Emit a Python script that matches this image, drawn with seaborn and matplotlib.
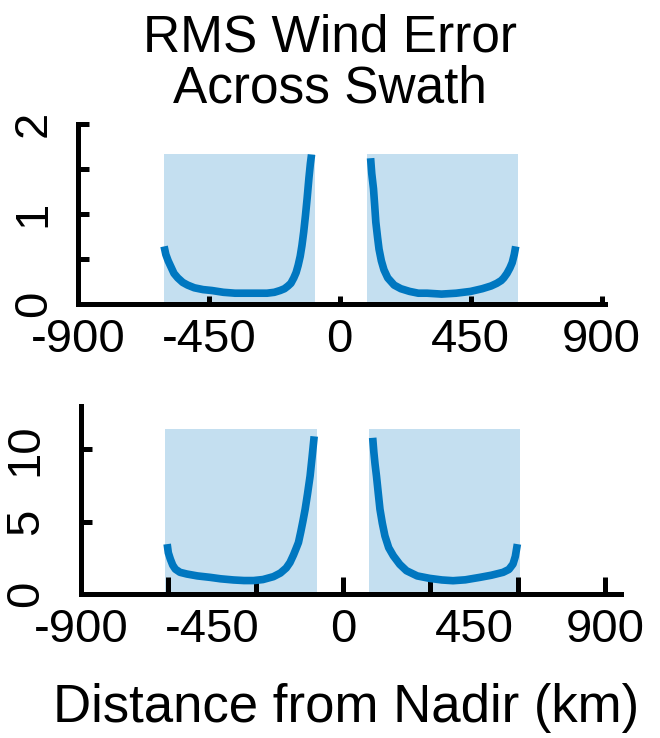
import matplotlib
matplotlib.use("Agg")
import matplotlib.pyplot as plt
import seaborn as sns
import pandas as pd
import numpy as np

sns.set_theme(style="white")
plt.rcParams['font.family'] = ['Liberation Sans', 'DejaVu Sans']
plt.rcParams['text.color'] = 'black'
plt.rcParams['xtick.color'] = 'black'
plt.rcParams['ytick.color'] = 'black'
plt.rcParams['axes.axisbelow'] = False

# ---- data ----
title_text = "RMS Wind Error\nAcross Swath"
xlabel_text = "Distance from Nadir (km)"
xtick_labels = ["-900", "-450", "0", "450", "900"]
xtick_vals = [-900, -450, 0, 450, 900]

top_left_x = [-604, -598, -590, -580, -570, -557, -540, -523, -500, -470, -440, -400,
              -360, -320, -280, -250, -225, -205, -190, -178, -168, -158, -150, -143,
              -136, -130, -124, -118, -112, -106, -101, -97]
top_left_y = [0.64, 0.55, 0.48, 0.41, 0.34, 0.29, 0.24, 0.21, 0.18, 0.16, 0.15, 0.13,
              0.12, 0.12, 0.12, 0.12, 0.13, 0.15, 0.17, 0.20, 0.23, 0.29, 0.35, 0.43,
              0.53, 0.65, 0.80, 0.98, 1.18, 1.40, 1.56, 1.66]
top_right_x = [106, 110, 116, 120, 124, 130, 135, 143, 152, 165, 187, 210, 240, 270,
               300, 350, 400, 450, 490, 520, 540, 555, 564, 575, 585, 593, 600, 605]
top_right_y = [1.62, 1.45, 1.28, 1.10, 0.91, 0.74, 0.61, 0.48, 0.38, 0.29, 0.21, 0.17,
               0.14, 0.12, 0.12, 0.11, 0.12, 0.14, 0.17, 0.20, 0.23, 0.26, 0.29, 0.34,
               0.40, 0.46, 0.55, 0.64]

bot_left_x = [-604, -600, -593, -585, -576, -560, -536, -500, -456, -420, -376, -340,
              -307, -275, -239, -215, -195, -182, -170, -160, -153, -145, -138, -130,
              -122, -113, -106, -99]
bot_left_y = [3.45, 2.85, 2.41, 2.00, 1.72, 1.50, 1.38, 1.25, 1.15, 1.05, 0.97, 0.93,
              0.93, 1.00, 1.20, 1.45, 1.80, 2.18, 2.70, 3.20, 3.56, 4.30, 5.00, 5.86,
              6.90, 8.16, 9.50, 10.9]
bot_right_x = [102, 106, 110, 115, 121, 127, 135, 144, 157, 173, 195, 218, 255, 298,
               340, 378, 420, 470, 510, 550, 570, 584, 592, 599]
bot_right_y = [10.8, 9.8, 9.0, 8.16, 7.0, 5.86, 4.9, 4.02, 3.2, 2.64, 2.05, 1.61, 1.25,
               1.08, 0.97, 0.92, 0.98, 1.15, 1.30, 1.50, 1.70, 2.07, 2.60, 3.45]

top_swaths = [(-605, -86), (93, 612)]
top_swath_height = 1.67
bot_swaths = [(-610, -91), (89, 609)]
bot_swath_height = 11.4

top_yticks = [0, 0.5, 1, 1.5, 2]
top_ylabels = ["0", "", "1", "", "2"]
bot_yticks = [0, 5, 10]
bot_ylabels = ["0", "5", "10"]
bot_xtick_marks = [-900, -600, -300, 0, 300, 600, 900]

line_color = "#0077C0"
shade_color = "#C4DFF0"

W, H = 660, 738
fig = plt.figure(figsize=(W / 100, H / 100), dpi=100)

def px_axes(left, right, bottom, top):
    return fig.add_axes([left / W, 1 - bottom / H, (right - left) / W, (bottom - top) / H])

ax1 = px_axes(78, 605, 304, 124)
ax2 = px_axes(81, 621, 594, 406)

def draw(ax, swaths, sh, curves):
    ax.set_axisbelow(False)
    for (a, b) in swaths:
        ax.fill_between([a, b], [0, 0], [sh, sh], color=shade_color, lw=0, zorder=1)
    for cx, cy in curves:
        df = pd.DataFrame({"x": cx, "y": cy})
        sns.lineplot(data=df, x="x", y="y", ax=ax, color=line_color, linewidth=5.5,
                     estimator=None, sort=False, zorder=3,
                     solid_joinstyle="round", solid_capstyle="butt")
    ax.set_xlabel("")
    ax.set_ylabel("")
    for s in ["top", "right"]:
        ax.spines[s].set_visible(False)
    for s in ["left", "bottom"]:
        ax.spines[s].set_linewidth(3.6)
        ax.spines[s].set_color("black")
        ax.spines[s].set_zorder(4)
    ax.set_facecolor("white")

draw(ax1, top_swaths, top_swath_height, [(top_left_x, top_left_y), (top_right_x, top_right_y)])
draw(ax2, bot_swaths, bot_swath_height, [(bot_left_x, bot_left_y), (bot_right_x, bot_right_y)])

fs_tick = 34
# top axes
ax1.set_xlim(-900, 912)
ax1.set_ylim(0, 2)
ax1.set_xticks(xtick_vals, xtick_labels)
ax1.set_yticks(top_yticks, top_ylabels)
ax1.tick_params(axis="x", direction="in", length=6, width=3.6, color="black",
                labelcolor="black", labelsize=fs_tick, pad=10, bottom=True)
ax1.tick_params(axis="y", direction="in", length=8, width=3.6, color="black",
                labelcolor="black", labelsize=fs_tick, pad=16, left=True, labelrotation=90)
for t in ax1.get_yticklabels():
    t.set_va("center")

# bottom axes
ax2.set_xlim(-900, 955)
ax2.set_ylim(0, 13)
ax2.xaxis.remove_overlapping_locs = False
ax2.set_xticks(bot_xtick_marks, [""] * len(bot_xtick_marks))
ax2.set_xticks(xtick_vals, xtick_labels, minor=True)
ax2.tick_params(axis="x", which="major", direction="in", length=12, width=3.6,
                color="black", bottom=True)
ax2.tick_params(axis="x", which="minor", direction="in", length=0, width=0,
                labelcolor="black", labelsize=fs_tick, pad=10, bottom=True)
ax2.set_yticks(bot_yticks, bot_ylabels)
ax2.tick_params(axis="y", direction="in", length=8, width=3.6, color="black",
                labelcolor="black", labelsize=fs_tick, pad=24, left=True, labelrotation=90)
for t in ax2.get_yticklabels():
    t.set_va("center")

fig.text(0.5, 1 - 14 / H, title_text, ha="center", va="top", fontsize=37,
         linespacing=1.05, color="black")
fig.text(346 / W, 1 - 722 / H, xlabel_text, ha="center", va="baseline",
         fontsize=38, color="black")

fig.savefig("out.png", dpi=100, facecolor="white")
